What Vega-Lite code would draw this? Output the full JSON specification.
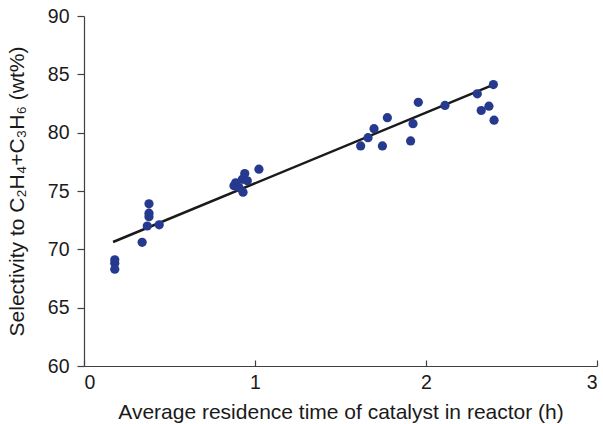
{
  "$schema": "https://vega.github.io/schema/vega-lite/v6.json",
  "width": 513,
  "height": 350,
  "autosize": {"type": "none"},
  "padding": {"left": 84, "top": 16, "right": 6, "bottom": 58},
  "background": "white",
  "config": {
    "view": {"stroke": null},
    "font": "Liberation Sans",
    "axis": {
      "grid": false,
      "domainColor": "#404040",
      "tickColor": "#404040",
      "domainWidth": 1.2,
      "tickWidth": 1.2,
      "labelFont": "Liberation Sans",
      "labelFontSize": 19.5,
      "labelColor": "#1a1a1a",
      "titleFont": "Liberation Sans",
      "titleFontSize": 21,
      "titleFontWeight": "normal",
      "titleColor": "#1a1a1a"
    }
  },
  "datasets": {
    "points": [
      {"t": 0.18, "s": 69.1},
      {"t": 0.18, "s": 68.8},
      {"t": 0.18, "s": 68.3},
      {"t": 0.34, "s": 70.6},
      {"t": 0.38, "s": 73.9},
      {"t": 0.38, "s": 73.1},
      {"t": 0.38, "s": 72.8},
      {"t": 0.37, "s": 72.0},
      {"t": 0.44, "s": 72.1},
      {"t": 0.877, "s": 75.45},
      {"t": 0.887, "s": 75.7},
      {"t": 0.906, "s": 75.3},
      {"t": 0.926, "s": 76.0},
      {"t": 0.94, "s": 76.5},
      {"t": 0.93, "s": 74.9},
      {"t": 0.955, "s": 75.87},
      {"t": 1.023, "s": 76.87},
      {"t": 1.618, "s": 78.86},
      {"t": 1.661, "s": 79.57},
      {"t": 1.696, "s": 80.34},
      {"t": 1.774, "s": 81.28},
      {"t": 1.745, "s": 78.86},
      {"t": 1.955, "s": 82.6},
      {"t": 1.924, "s": 80.77},
      {"t": 1.91, "s": 79.29},
      {"t": 2.111, "s": 82.33},
      {"t": 2.3, "s": 83.33},
      {"t": 2.394, "s": 84.12},
      {"t": 2.368, "s": 82.27},
      {"t": 2.323, "s": 81.9},
      {"t": 2.398, "s": 81.07}
    ],
    "fit": [
      {"t": 0.17, "s": 70.63},
      {"t": 2.41, "s": 84.2}
    ]
  },
  "layer": [
    {
      "data": {"name": "fit"},
      "mark": {"type": "line", "color": "#1a1a1a", "strokeWidth": 2.5},
      "encoding": {
        "x": {
          "field": "t", "type": "quantitative",
          "scale": {"domain": [0, 3], "nice": false},
          "axis": {"values": [0, 1, 2, 3], "format": "d", "tickSize": -6, "title": "Average residence time of catalyst in reactor (h)", "labelPadding": 13, "titlePadding": 10}
        },
        "y": {
          "field": "s", "type": "quantitative",
          "scale": {"domain": [60, 90], "nice": false, "zero": false},
          "axis": {"values": [60, 65, 70, 75, 80, 85, 90], "format": "d", "tickSize": 7, "title": "Selectivity to C₂H₄+C₃H₆ (wt%)", "labelPadding": 8, "titlePadding": 20}
        }
      }
    },
    {
      "data": {"name": "points"},
      "mark": {"type": "circle", "color": "#253a8e", "opacity": 1, "size": 85},
      "encoding": {
        "x": {"field": "t", "type": "quantitative"},
        "y": {"field": "s", "type": "quantitative"}
      }
    }
  ]
}
